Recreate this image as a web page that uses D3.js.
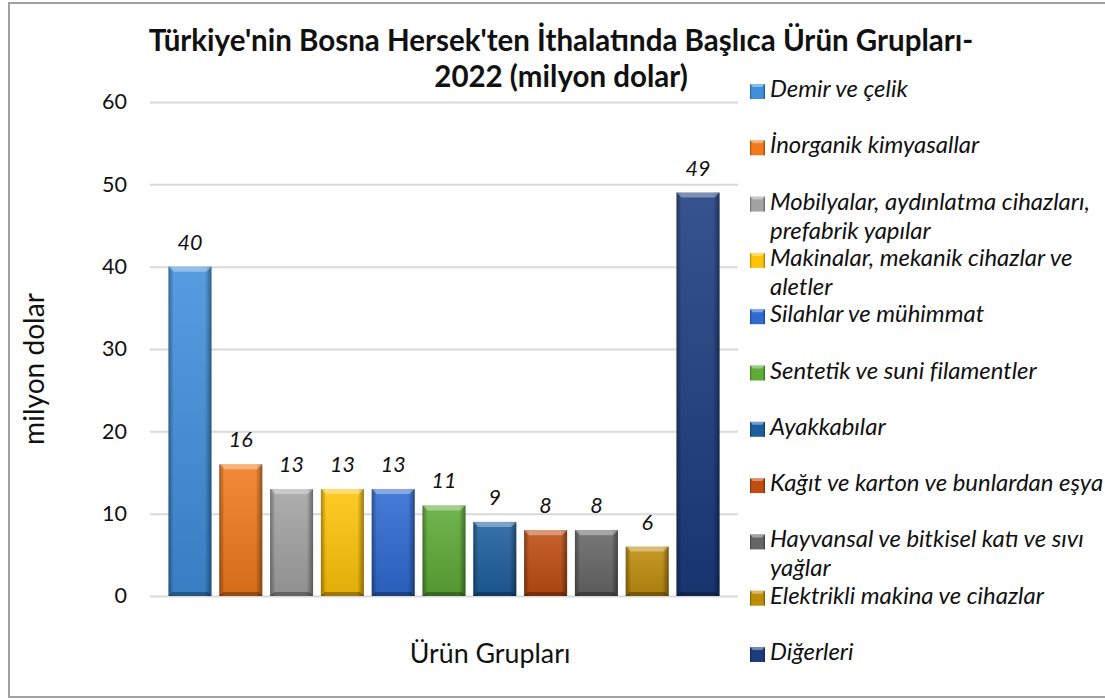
<!DOCTYPE html>
<html lang="tr">
<head>
<meta charset="UTF-8">
<script src="https://cdn.jsdelivr.net/npm/d3@7"></script>
<style>
  body { margin: 0; background: #fff; }
  svg text { font-family: Lato, "Open Sans", sans-serif; fill: #111; }
</style>
</head>
<body>
<script>
// data
const categories = [
  "Demir ve çelik",
  "İnorganik kimyasallar",
  "Mobilyalar, aydınlatma cihazları,\nprefabrik yapılar",
  "Makinalar, mekanik cihazlar ve\naletler",
  "Silahlar ve mühimmat",
  "Sentetik ve suni filamentler",
  "Ayakkabılar",
  "Kağıt ve karton ve bunlardan eşya",
  "Hayvansal ve bitkisel katı ve sıvı\nyağlar",
  "Elektrikli makina ve cihazlar",
  "Diğerleri"
];
const values = [40, 16, 13, 13, 13, 11, 9, 8, 8, 6, 49];
const colors = ["#3f8fdc", "#f07a1c", "#a3a3a3", "#ffc408", "#2e6ad2",
                "#5eab36", "#1d5f9e", "#bf4d12", "#666666", "#bf8d0c", "#1c3c7e"];
const yTicks = [0, 10, 20, 30, 40, 50, 60];

const w = 1105, h = 700;

const svg = d3.select("body").append("svg")
  .attr("width", w)
  .attr("height", h);

// size a text so that it is about as wide as in the picture
function fitWidth(sel, target) {
  const base = 20;
  sel.style("font-size", base + "px");
  const len = sel.node().getComputedTextLength();
  const size = base * target / len;
  sel.style("font-size", size.toFixed(1) + "px");
  return size;
}

// outer frame
svg.append("rect")
  .attr("x", 9).attr("y", 3)
  .attr("width", 1110).attr("height", 694)
  .attr("fill", "#fff")
  .attr("stroke", "#a0a0a0")
  .attr("stroke-width", 2);

// shading for the bevelled bars
const defs = svg.append("defs");
const hs = defs.append("linearGradient").attr("id", "hshade")
  .attr("x1", 0).attr("x2", 1).attr("y1", 0).attr("y2", 0);
[[0, 0.35], [0.12, 0], [0.85, 0], [1, 0.4]].forEach(s =>
  hs.append("stop").attr("offset", s[0]).attr("stop-color", "#000").attr("stop-opacity", s[1]));
const vs = defs.append("linearGradient").attr("id", "vshade")
  .attr("x1", 0).attr("x2", 0).attr("y1", 0).attr("y2", 1);
[[0, "#fff", 0.12], [1, "#000", 0.12]].forEach(s =>
  vs.append("stop").attr("offset", s[0]).attr("stop-color", s[1]).attr("stop-opacity", s[2]));

// scales
const y = d3.scaleLinear().domain([0, 60]).range([596, 102]);
const x = d3.scaleBand().domain(categories).range([150, 738])
  .paddingInner(0.154).paddingOuter(0.364);

// y axis + gridlines
const yAxis = svg.append("g")
  .attr("transform", "translate(150,0)")
  .call(d3.axisLeft(y).tickValues(yTicks).tickSize(-588).tickPadding(23));
yAxis.select(".domain").remove();
yAxis.selectAll(".tick line").attr("stroke", "#d9d9d9").attr("stroke-width", 2);
yAxis.selectAll(".tick text")
  .style("font-family", "Lato, sans-serif")
  .attr("fill", "#111");
const tickSize = fitWidth(yAxis.select(".tick:last-of-type text"), 25);
yAxis.selectAll(".tick text").style("font-size", tickSize.toFixed(1) + "px");

// bars
const bar = svg.selectAll(".bar")
  .data(categories)
  .enter()
  .append("g")
  .attr("class", "bar")
  .attr("transform", (d, i) => "translate(" + x(d) + "," + y(values[i]) + ")");

bar.each(function(d, i) {
  const g = d3.select(this);
  const bw = x.bandwidth();
  const bh = y(0) - y(values[i]);
  g.append("rect").attr("width", bw).attr("height", bh).attr("fill", colors[i]);
  g.append("rect").attr("width", bw).attr("height", bh).attr("fill", "url(#vshade)");
  g.append("rect").attr("width", bw).attr("height", bh).attr("fill", "url(#hshade)");
  // top bevel
  g.append("path")
    .attr("d", `M0,0H${bw}L${bw - 5},5H5Z`)
    .attr("fill", "#fff").attr("fill-opacity", 0.35);
  // bottom bevel
  g.append("path")
    .attr("d", `M0,${bh}H${bw}L${bw - 4},${bh - 4}H4Z`)
    .attr("fill", "#000").attr("fill-opacity", 0.3);
});

// value labels
const vals = svg.selectAll(".val")
  .data(values)
  .enter()
  .append("text")
  .attr("class", "val")
  .attr("x", (d, i) => x(categories[i]) + x.bandwidth() / 2)
  .attr("y", d => y(d) - 17)
  .attr("text-anchor", "middle")
  .style("font-style", "italic")
  .text(d => d);
const valSize = fitWidth(vals.filter((d, i) => i === 1), 24);
vals.style("font-size", valSize.toFixed(1) + "px");

// title
const t1 = svg.append("text")
  .attr("x", 561).attr("y", 51)
  .attr("text-anchor", "middle")
  .style("font-weight", "bold")
  .text("Türkiye'nin Bosna Hersek'ten İthalatında Başlıca Ürün Grupları-");
const titleSize = fitWidth(t1, 825);
svg.append("text")
  .attr("x", 561).attr("y", 87)
  .attr("text-anchor", "middle")
  .style("font-size", titleSize.toFixed(1) + "px")
  .style("font-weight", "bold")
  .text("2022 (milyon dolar)");

// axis titles
const yt = svg.append("text")
  .attr("transform", "translate(44,369) rotate(-90)")
  .attr("text-anchor", "middle")
  .text("milyon dolar");
fitWidth(yt, 152);
const xt = svg.append("text")
  .attr("x", 490).attr("y", 663)
  .attr("text-anchor", "middle")
  .text("Ürün Grupları");
fitWidth(xt, 161);

// legend
const legend = svg.selectAll(".leg")
  .data(categories)
  .enter()
  .append("g")
  .attr("class", "leg")
  .attr("transform", (d, i) => "translate(750," + (97 + i * 56.3) + ")");

legend.each(function(d, i) {
  const g = d3.select(this);
  g.append("rect").attr("x", 0).attr("y", -13).attr("width", 15).attr("height", 15).attr("fill", colors[i]);
  g.append("rect").attr("x", 0).attr("y", -13).attr("width", 15).attr("height", 15).attr("fill", "url(#hshade)");
  g.append("path").attr("d", "M0,-13H15L12,-10H3Z").attr("fill", "#fff").attr("fill-opacity", 0.4);
  const t = g.append("text")
    .attr("x", 20).attr("y", 0)
    .style("font-style", "italic");
  d.split("\n").forEach((line, k) => {
    t.append("tspan").attr("x", 20).attr("dy", k === 0 ? 0 : 29).text(line);
  });
});
// legend font from the widest label line in the picture
const probe = svg.append("text").style("font-style", "italic").text("Kağıt ve karton ve bunlardan eşya");
const legSize = fitWidth(probe, 333);
probe.remove();
legend.selectAll("text").style("font-size", legSize.toFixed(1) + "px");
</script>
</body>
</html>
